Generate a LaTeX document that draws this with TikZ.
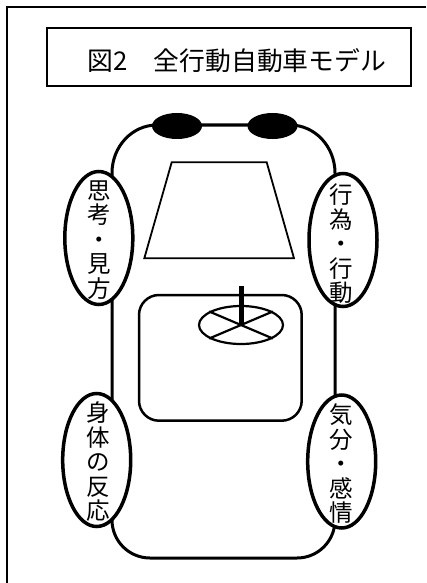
\documentclass[tikz,border=0pt]{standalone}
\usepackage{fontspec}
\newfontfamily\jpfont{Noto Sans CJK JP}
\usetikzlibrary{shapes.geometric}

\tikzset{
  frameline/.style={line width=2pt},
  titlebox/.style={draw, line width=2pt, minimum width=364pt, minimum height=58pt, inner sep=0pt},
  titletext/.style={font={\jpfont\fontsize{25.8}{25.8}\selectfont}, inner sep=0pt},
  bodyline/.style={line width=3pt},
  wheel/.style={ellipse, fill=black, draw=none, minimum width=50pt, minimum height=26pt, inner sep=0pt},
  glass/.style={line width=1.8pt, line join=miter},
  cabin/.style={line width=2.5pt, rounded corners=20pt},
  steer/.style={ellipse, draw, line width=2.2pt, minimum width=84pt, minimum height=38pt, inner sep=0pt},
  spoke/.style={line width=2.2pt},
  column/.style={line width=5pt},
  bubble/.style={ellipse, draw, fill=white, line width=3.5pt, minimum width=68pt, minimum height=133pt, inner sep=0pt},
  vtext/.style={font={\jpfont\fontsize{23.5}{24.5}\selectfont}, align=center, inner sep=0pt}
}

\begin{document}
\begin{tikzpicture}[x=1pt, y=1pt]
  \useasboundingbox (0,0) rectangle (426,-583);
  \fill[white] (0,0) rectangle (426,-583);

  % outer frame
  \draw[frameline] (7,-583) -- (7,-7) -- (426,-7);

  % title
  \node[titlebox] (title) at (229,-57) {};
  \node[titletext] (titlelabel) at (237,-61) {図2　全行動自動車モデル};

  % car body
  \draw[bodyline] (157,-125) -- (290,-125)
    arc[start angle=90, end angle=0, x radius=45, y radius=48]
    -- (335,-520)
    arc[start angle=0, end angle=-90, x radius=38, y radius=38]
    -- (150,-558)
    arc[start angle=270, end angle=180, x radius=38, y radius=38]
    -- (112,-173)
    arc[start angle=180, end angle=90, x radius=45, y radius=48]
    -- cycle;

  % wheels
  \node[wheel] (wheelL) at (177,-126) {};
  \node[wheel] (wheelR) at (272.5,-126) {};

  % windshield
  \draw[glass] (171.7,-162.3) -- (266.7,-162.3) -- (294,-258.3) -- (144.3,-258.3) -- cycle;

  % cabin and steering wheel
  \draw[cabin] (139,-295) rectangle (301.7,-420.7);
  \node[steer] (wheelS) at (241,-325) {};
  \draw[spoke] (wheelS.157) -- (wheelS.-23);
  \draw[spoke] (wheelS.23) -- (wheelS.203);
  \coordinate (columnTop) at (241,-286);
  \draw[column] (columnTop) -- (wheelS.center);

  % four elements
  \node[bubble] (think) at (98.8,-238) {};
  \node[vtext] (thinkText) at (99,-240) {思\\考\\・\\見\\方};

  \node[bubble] (act) at (343,-240) {};
  \node[vtext] (actText) at (341.7,-244) {行\\為\\・\\行\\動};

  \node[bubble] (body) at (96.7,-460) {};
  \node[vtext] (bodyText) at (98,-462) {身\\体\\の\\反\\応};

  \node[bubble] (mood) at (341.7,-461.5) {};
  \node[vtext] (moodText) at (341.7,-464) {気\\分\\・\\感\\情};
\end{tikzpicture}
\end{document}
